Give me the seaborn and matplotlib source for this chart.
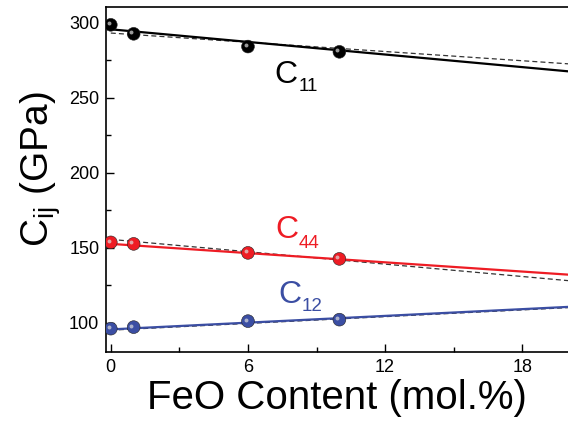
import matplotlib
matplotlib.use("Agg")
import matplotlib.pyplot as plt
import seaborn as sns
import pandas as pd
from matplotlib.ticker import MultipleLocator

sns.set_theme(style="ticks")
plt.rcParams['font.family'] = ['Liberation Sans', 'DejaVu Sans']
plt.rcParams['mathtext.fontset'] = 'custom'
plt.rcParams['mathtext.rm'] = 'Liberation Sans'
plt.rcParams['mathtext.it'] = 'Liberation Sans'
for k in ['text.color', 'axes.labelcolor', 'xtick.color', 'ytick.color', 'axes.edgecolor']:
    plt.rcParams[k] = 'black'

# measured points
feo = [0, 1, 6, 10]
c11 = [298.5, 292.5, 284.0, 280.5]
c44 = [153.5, 152.5, 146.5, 142.5]
c12 = [96.0, 97.0, 101.0, 102.0]

# fitted lines (solid) and model lines (dashed), evaluated at the ends
line_x = [0, 20]
c11_fit = [295.5, 267.5]
c44_fit = [152.5, 132.0]
c12_fit = [95.5, 110.5]
c11_dash = [293.0, 272.5]
c44_dash = [155.5, 128.0]
c12_dash = [95.0, 110.0]

names = ["C11", "C44", "C12"]
subs = ["11", "44", "12"]
colors = {"C11": "#000000", "C44": "#ee1c24", "C12": "#3b4ea3"}

pts = pd.DataFrame({
    "x": feo * 3,
    "y": c11 + c44 + c12,
    "s": sum([[n] * len(feo) for n in names], []),
})
fit = pd.DataFrame({
    "x": line_x * 3,
    "y": c11_fit + c44_fit + c12_fit,
    "s": sum([[n] * 2 for n in names], []),
})
dash = pd.DataFrame({
    "x": line_x * 3,
    "y": c11_dash + c44_dash + c12_dash,
    "s": sum([[n] * 2 for n in names], []),
})

fig = plt.figure(figsize=(5.68, 4.25), dpi=100)
ax = fig.add_axes([0.187, 0.172, 0.813, 0.812])

sns.lineplot(data=dash, x="x", y="y", units="s", estimator=None, color="#333333",
             lw=0.9, ls=(0, (4, 2.5)), ax=ax, legend=False, zorder=2)
sns.lineplot(data=fit, x="x", y="y", hue="s", palette=colors, lw=1.6,
             ax=ax, legend=False, zorder=3)
sns.scatterplot(data=pts, x="x", y="y", hue="s", palette=colors, s=85,
                edgecolor="#222222", linewidth=0.4, ax=ax, legend=False, zorder=4)
# small highlight to mimic shaded spheres
sns.scatterplot(x=[v - 0.1 for v in feo] * 3,
                y=[v + 1.0 for v in c11 + c44 + c12],
                color="#dddddd", s=8, linewidth=0, alpha=0.7, ax=ax,
                legend=False, zorder=5)

ax.set_xlim(-0.2, 20)
ax.set_ylim(80.5, 310.5)
ax.xaxis.set_major_locator(MultipleLocator(6))
ax.xaxis.set_minor_locator(MultipleLocator(3))
ax.yaxis.set_major_locator(MultipleLocator(50))
ax.yaxis.set_minor_locator(MultipleLocator(25))
ax.tick_params(which="major", direction="in", length=6, width=1, labelsize=13, pad=5)
ax.tick_params(which="minor", direction="in", length=3.5, width=1)
ax.tick_params(top=False, right=False)
for sp in ["left", "bottom", "top"]:
    ax.spines[sp].set_linewidth(1.2)
    ax.spines[sp].set_color("black")
ax.spines["right"].set_visible(False)

ax.set_xlabel("FeO Content (mol.%)", fontsize=29, labelpad=2)
ax.set_ylabel(r"C$_{\mathrm{ij}}$ (GPa)", fontsize=28, labelpad=4)
ax.yaxis.label.set_y(0.53)

# annotation labels: big C with smaller subscript
c_pos = [(7.15, 260.0), (7.2, 156.7), (7.35, 113.3)]
s_pos = [(8.2, 254.5), (8.2, 150.0), (8.35, 108.0)]
for n, sb, (cx, cy), (sx, sy) in zip(names, subs, c_pos, s_pos):
    ax.text(cx, cy, "C", fontsize=23, color=colors[n], va="baseline")
    ax.text(sx, sy, sb, fontsize=13.5, color=colors[n], va="baseline")

fig.savefig("out.png", dpi=100)
